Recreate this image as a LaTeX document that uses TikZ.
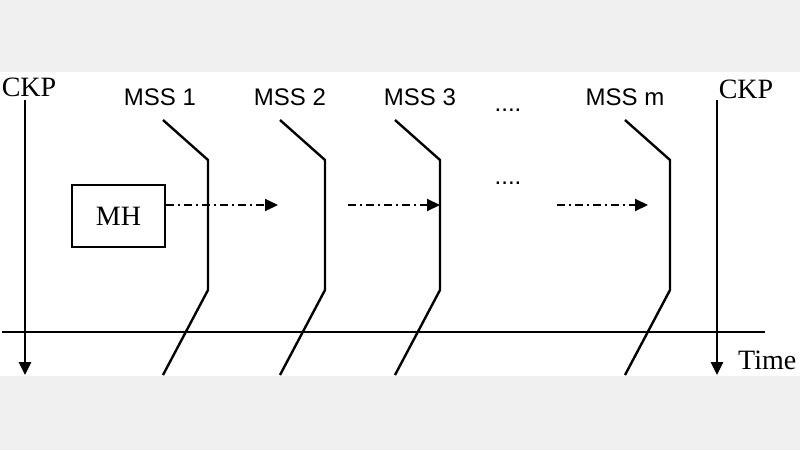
\documentclass[tikz,border=0pt]{standalone}
\usepackage{fontspec}
\setmainfont{Liberation Serif}
\newfontfamily\arial{Liberation Sans}
\usetikzlibrary{arrows.meta}
\begin{document}
\begin{tikzpicture}[x=1pt,y=-1pt,
  mss/.style={line width=2.4pt},
  lbl/.style={font=\arial\fontsize{24}{24}\selectfont},
  ser/.style={font=\fontsize{28}{28}\selectfont},
  flow/.style={line width=2pt,dash pattern=on 8pt off 4pt on 2pt off 4pt,-{Triangle[length=13pt,width=12pt]}},
  ckp/.style={line width=2.8pt,-{Triangle[length=13pt,width=12pt]}}]
\useasboundingbox (0,0) rectangle (800,450);
\fill[gray!12] (0,0) rectangle (800,72);
\fill[gray!12] (0,376) rectangle (800,450);
\fill[white] (0,72) rectangle (800,376);
\draw[line width=1.4pt] (2,332) -- (765,332);
\node[ser] (c1) at (29,87) {CKP};
\coordinate (c1a) at (25,100); \coordinate (c1b) at (25,375);
\draw[ckp] (c1a) -- (c1b);
\node[ser] (c2) at (746,89) {CKP};
\coordinate (c2a) at (717,100); \coordinate (c2b) at (717,375);
\draw[ckp] (c2a) -- (c2b);
\node[ser,anchor=west,inner sep=0pt] (t) at (738,360) {Time};
\foreach \n/\lx/\x in {1/160/163,2/290/280,3/420/395,m/625/625}{
  \node[lbl] (m\n) at (\lx,97) {MSS \n};
  \draw[mss] (\x,120) -- (\x+45,160) -- (\x+45,290) -- (\x,375);
}
\node[lbl] (d1) at (508,110) {....};
\node[lbl] (d2) at (508,183) {....};
\node[draw,line width=1.5pt,minimum width=93pt,minimum height=62pt,ser] (mh) at (118.5,216) {MH};
\coordinate (a1) at (278,205);
\coordinate (b0) at (348,205); \coordinate (b1) at (440,205);
\coordinate (e0) at (557,205); \coordinate (e1) at (648,205);
\draw[flow] (mh.east |- a1) -- (a1);
\draw[flow] (b0) -- (b1);
\draw[flow] (e0) -- (e1);
\end{tikzpicture}
\end{document}
